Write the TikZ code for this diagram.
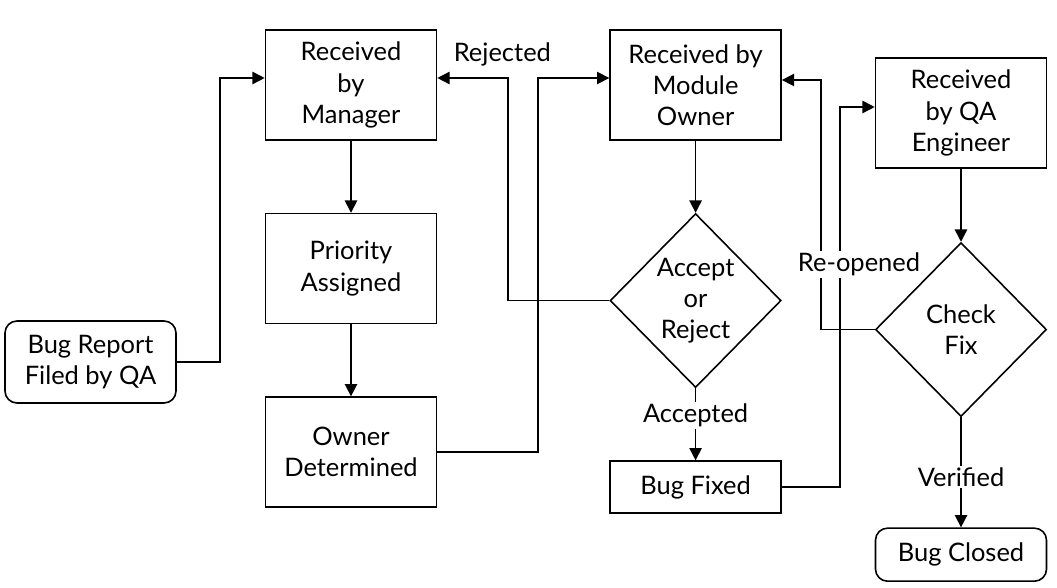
\documentclass[tikz,border=0pt]{standalone}
\usepackage{fontspec}
\setmainfont{Lato}
\usetikzlibrary{positioning, arrows.meta, shapes.geometric}

\begin{document}
\begin{tikzpicture}[node distance=1.44cm and 3.44cm, >={Triangle[length=7pt,width=7pt]}, line width=0.9pt,
        every node/.style={font=\fontsize{14.5}{17.8}\selectfont, align=center},
        stepbox/.style={draw, minimum width=3.42cm, minimum height=2.2cm, inner sep=2pt},
        endbox/.style={draw, rounded corners=0.24cm, minimum width=3.42cm, inner sep=2pt},
        decide/.style={draw, diamond, minimum width=3.42cm, minimum height=3.48cm, inner sep=0pt},
        lbl/.style={fill=white, inner sep=1pt}]
        \useasboundingbox (0,0) rectangle (21.14,-11.76);

        % manager column
        \node (rm) [stepbox] at (7.02,-1.7) {Received\\by\\Manager};
        \node (pa) [stepbox, below=of rm] {Priority\\Assigned};
        \node (od) [stepbox, below=of pa] {Owner\\Determined};
        \node (bug) [endbox, minimum height=1.64cm] at (1.81,-7.24) {Bug Report\\Filed by QA};

        % module owner column
        \node (mo) [stepbox, right=of rm] {Received by\\Module\\Owner};
        \node (ar) [decide, below=of mo] {Accept\\or\\Reject};
        \node (bf) [stepbox, minimum height=1.04cm, below=of ar] {Bug Fixed};

        % QA column
        \node (qa) [stepbox] at (19.22,-2.26) {Received\\by QA\\Engineer};
        \node (cf) [decide, below=1.46cm of qa] {Check\\Fix};
        \node (bc) [endbox, minimum height=1.06cm, below=2.2cm of cf] {Bug Closed};

        % junctions of the elbow lines
        \coordinate (j1) at (4.4,-1.56);
        \coordinate (j2) at (10.76,-1.56);
        \coordinate (j3) at (10.16,-1.56);
        \coordinate (j4) at (16.8,-2.14);
        \coordinate (j5) at (16.42,-1.6);

        \draw[->] (bug.east) -| (j1) -- (j1 -| rm.west);
        \draw[->] (rm) -- (pa);
        \draw[->] (pa) -- (od);
        \draw[->] (od.east) -| (j2) -- (j2 -| mo.west);
        \draw[->] (ar.west) -| (j3) -- node[above=3pt, pos=0.08] {Rejected} (j3 -| rm.east);

        \draw[->] (mo) -- (ar);
        \draw[->] (ar) -- node[lbl, pos=0.38] {Accepted} (bf);
        \draw[->] (bf.east) -| (j4) -- (j4 -| qa.west);

        \draw[->] (qa) -- (cf);
        \draw[->] (cf) -- node[lbl, pos=0.54] {Verified} (bc);
        \draw[->] (cf.west) -| node[lbl, pos=0.63, xshift=0.76cm] {Re-opened} (j5) -- (j5 -| mo.east);

    \end{tikzpicture}
\end{document}
